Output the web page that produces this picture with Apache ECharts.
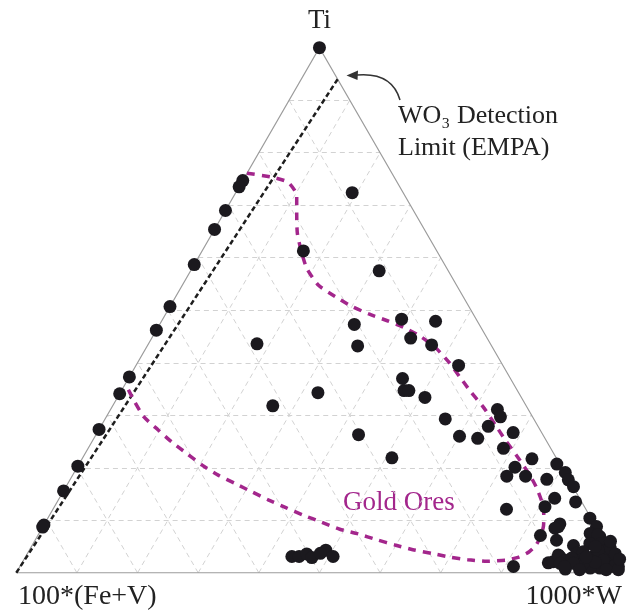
<!DOCTYPE html>
<html>
<head>
<meta charset="utf-8">
<script src="https://cdn.jsdelivr.net/npm/echarts@6/dist/echarts.min.js"></script>
<style>
  html, body { margin: 0; padding: 0; background: #fff; }
  #chart { width: 630px; height: 614px; }
</style>
</head>
<body>
<div id="chart"></div>
<script>
// every point is [Ti %, 1000*W %]; 100*(Fe+V) is the rest
var wFreeSamples = [
  [100, 0], [74.7, 0], [73.5, 0], [69.0, 0], [65.4, 0], [58.7, 0], [50.7, 0], [46.2, 0],
  [37.3, 0], [34.1, 0], [27.3, 0], [20.3, 0], [15.6, 0], [9.1, 0], [8.7, 0]
];
var mixedSamples = [
  [72.4, 19.2], [61.3, 16.7], [57.5, 31.1], [48.3, 39.4], [47.9, 45.2], [47.3, 32.1],
  [44.7, 42.7], [43.4, 46.8], [43.6, 17.9], [43.2, 34.7], [39.5, 53.2], [37.0, 45.2],
  [34.7, 46.6], [34.7, 47.4], [33.4, 50.7], [34.3, 32.6], [31.8, 26.4], [31.1, 63.8],
  [29.7, 65.0], [29.3, 56.1], [27.9, 63.9], [26.7, 68.6], [26.0, 60.1], [25.6, 63.3],
  [26.3, 43.3], [23.7, 68.5], [21.9, 51.0], [21.7, 74.2], [20.7, 78.8], [20.1, 72.2],
  [19.1, 81.0], [18.4, 71.7], [18.4, 74.8], [17.8, 78.6], [17.7, 82.2], [16.4, 83.7],
  [14.2, 81.7], [13.5, 85.5], [12.6, 80.9], [12.1, 74.8], [10.4, 89.4], [9.3, 85.0],
  [8.8, 91.3], [8.8, 85.0], [7.1, 82.9], [6.2, 86.0], [7.5, 90.9], [6.9, 92.8],
  [5.2, 89.3], [1.9, 86.8], [3.1, 88.1], [1.2, 81.4], [2.1, 87.5]
];
var lowTiSamples = [
  [3.1, 43.9], [3.1, 45.1], [3.6, 46.1], [2.9, 47.3], [4.3, 48.9], [3.7, 48.3], [3.1, 50.7]
];
var wRichSamples = [
  [8.5, 84.6], [7.2, 92.3], [5.6, 91.8], [5.6, 93.7], [4.3, 95.2], [3.4, 87.7], [2.4, 89.3],
  [3.7, 90.6], [4.0, 91.5], [3.1, 93.6], [1.8, 93.2], [1.5, 95.0], [1.5, 96.6], [2.8, 96.8],
  [2.1, 97.9], [1.2, 98.7], [0.9, 95.8], [0.9, 94.2], [2.4, 91.8], [2.8, 90.2], [3.4, 95.7],
  [1.2, 97.9], [4.7, 95.6], [4.3, 93.8], [5.0, 93.0], [1.8, 92.6], [1.8, 91.0], [1.8, 88.8],
  [2.4, 95.6], [0.6, 97.0], [0.6, 99.0], [2.0, 94.5], [3.0, 92.5], [0.7, 90.2], [1.2, 89.8],
  [3.6, 97.0], [0.6, 92.6], [6.0, 95.0], [2.6, 98.2]
];
var goldOresBoundary = [
  [76.1, 0], [75.4, 4.2], [74.4, 7.6], [71.9, 10.3], [68.5, 12.0], [64.7, 14.0], [61.5, 16.2],
  [58.0, 18.9], [54.8, 22.4], [52.6, 26.3], [50.8, 29.8], [49.3, 33.5], [48.0, 37.2],
  [46.8, 40.4], [45.1, 44.0], [42.8, 47.8], [40.1, 51.3], [37.3, 54.5], [34.4, 57.8],
  [31.6, 61.2], [28.1, 65.0], [25.3, 68.0], [22.1, 71.6], [18.6, 75.4], [16.1, 77.8],
  [13.3, 80.1], [11.0, 81.5], [8.9, 82.5], [7.0, 83.0], [5.3, 83.1], [4.0, 82.6], [3.0, 81.4],
  [2.4, 79.4], [2.2, 76.5], [2.5, 73.2], [3.0, 70.0], [3.7, 66.7], [4.4, 63.2], [5.3, 59.8],
  [6.3, 56.3], [7.4, 52.7], [8.3, 49.2], [9.6, 45.6], [11.0, 41.8], [12.3, 38.5], [13.9, 34.6],
  [15.4, 31.2], [17.0, 27.6], [18.6, 24.0], [20.5, 20.4], [22.7, 16.8], [24.9, 13.2],
  [27.2, 9.8], [29.7, 6.2], [32.7, 3.1], [36.0, 0]
];
var detectionLimit = [[0, 0], [94.0, 6.0]];
var gridSteps = [10, 20, 30, 40, 50, 60, 70, 80, 90];

var SQ = Math.sqrt(3) / 2;
// ternary [Ti, W] -> plane x, y
function toXY(p) {
  return [p[1] + p[0] / 2, p[0] * SQ];
}

var gridLines = [];
gridSteps.forEach(function (k) {
  gridLines.push({ coords: [toXY([k, 0]), toXY([k, 100 - k])] });      // Ti const
  gridLines.push({ coords: [toXY([0, k]), toXY([100 - k, k])] });      // W const
  gridLines.push({ coords: [toXY([0, 100 - k]), toXY([100 - k, 0])] }); // Fe+V const
});

var samples = [].concat(wFreeSamples, mixedSamples, lowTiSamples, wRichSamples);

var serif = '"Liberation Serif", "DejaVu Serif", serif';
var chart = echarts.init(document.getElementById('chart'));

chart.setOption({
  backgroundColor: '#ffffff',
  animation: false,
  grid: { left: 16.3, right: 7.4, top: 47.7, bottom: 41.2 },
  xAxis: { type: 'value', min: 0, max: 100, show: false },
  yAxis: { type: 'value', min: 0, max: 100 * SQ, show: false },
  series: [
    {
      type: 'lines',
      coordinateSystem: 'cartesian2d',
      silent: true,
      z: 1,
      lineStyle: { color: '#d2d2d2', width: 1, type: [5, 4], opacity: 1 },
      data: gridLines
    },
    {
      type: 'lines',
      coordinateSystem: 'cartesian2d',
      polyline: true,
      silent: true,
      z: 2,
      lineStyle: { color: '#9c9c9c', width: 1.2, opacity: 1 },
      data: [{ coords: [toXY([0, 0]), toXY([0, 100]), toXY([100, 0]), toXY([0, 0])] }]
    },
    {
      type: 'line',
      silent: true,
      z: 3,
      symbol: 'none',
      lineStyle: { color: '#1e1e1e', width: 2.5, type: [5, 3] },
      data: detectionLimit.map(toXY)
    },
    {
      type: 'line',
      silent: true,
      z: 4,
      symbol: 'none',
      smooth: 0.2,
      lineStyle: { color: '#a3268c', width: 3.5, type: [8, 7] },
      data: goldOresBoundary.map(toXY)
    },
    {
      type: 'scatter',
      z: 5,
      symbolSize: 13,
      itemStyle: { color: '#1b191e', opacity: 1 },
      data: samples.map(toXY)
    }
  ],
  graphic: [
    { type: 'text', style: { x: 319.5, y: 21, text: 'Ti', font: '27px ' + serif, fill: '#222', textAlign: 'center', textVerticalAlign: 'middle' } },
    { type: 'text', style: { x: 18, y: 597, text: '100*(Fe+V)', font: '28px ' + serif, fill: '#222', textAlign: 'left', textVerticalAlign: 'middle' } },
    { type: 'text', style: { x: 622, y: 597, text: '1000*W', font: '28px ' + serif, fill: '#222', textAlign: 'right', textVerticalAlign: 'middle' } },
    { type: 'text', style: { x: 398, y: 116, text: 'WO\u2083 Detection', font: '26px ' + serif, fill: '#222', textAlign: 'left', textVerticalAlign: 'middle' } },
    { type: 'text', style: { x: 398, y: 148, text: 'Limit (EMPA)', font: '26px ' + serif, fill: '#222', textAlign: 'left', textVerticalAlign: 'middle' } },
    { type: 'text', style: { x: 343, y: 503, text: 'Gold Ores', font: '27px ' + serif, fill: '#a3268c', textAlign: 'left', textVerticalAlign: 'middle' } },
    { type: 'bezierCurve', shape: { x1: 400, y1: 100, cpx1: 392, cpy1: 72, x2: 357, y2: 75 }, style: { stroke: '#333', lineWidth: 1.5, fill: null } },
    { type: 'polygon', shape: { points: [[346.5, 75.5], [358, 70.5], [357.5, 80]] }, style: { fill: '#333' } }
  ]
});
</script>
</body>
</html>
